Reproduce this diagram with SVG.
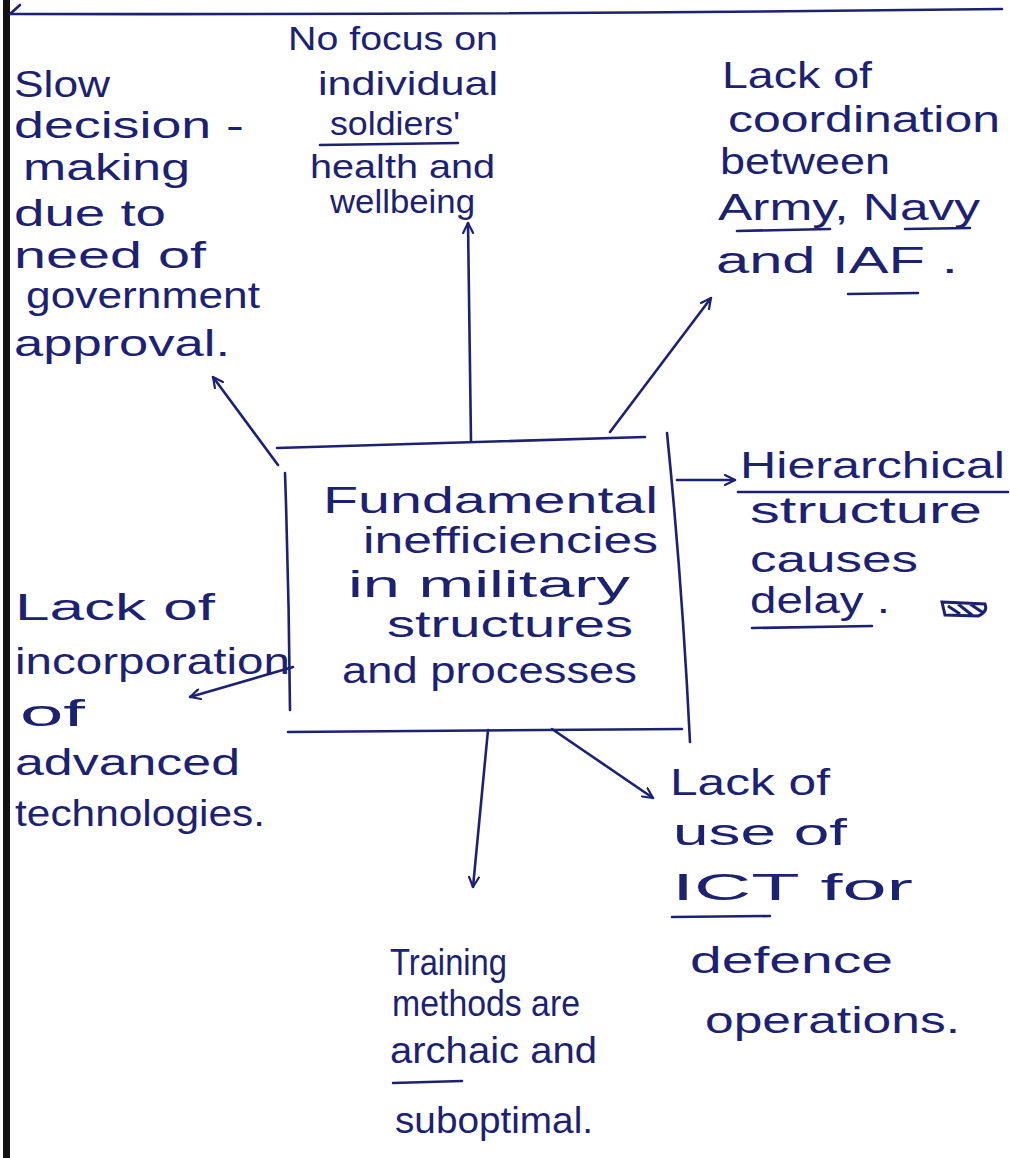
<svg xmlns="http://www.w3.org/2000/svg" width="1010" height="1158" viewBox="0 0 1010 1158">
<style>
text{font-family:"Liberation Sans","DejaVu Sans",sans-serif;font-size:37px;fill:#1d2270;}
.sm{font-size:34px;}
.ln{stroke:#1d2270;stroke-width:2.6;fill:none;stroke-linecap:round;}
.ul{stroke:#1d2270;stroke-width:2.6;fill:none;stroke-linecap:round;}
</style>
<defs>
<marker id="ah" viewBox="0 0 12 12" refX="11" refY="6" markerWidth="12" markerHeight="12" markerUnits="userSpaceOnUse" orient="auto">
<path d="M1,1 L11,6 L1,11" fill="none" stroke="#1d2270" stroke-width="2.2" stroke-linecap="round" stroke-linejoin="round"/>
</marker>
</defs>
<rect width="1010" height="1158" fill="#ffffff"/>
<rect x="3" y="0" width="7" height="1158" fill="#111111"/>
<path class="ln" d="M10,14 Q500,15 1002,9"/>
<path class="ln" d="M10,14 L20,5"/>

<g id="center">
<path class="ln" d="M277,448 L645,437"/>
<path class="ln" d="M285,473 Q289,590 290,710"/>
<path class="ln" d="M667,433 Q682,580 690,742"/>
<path class="ln" d="M288,732 L682,729"/>
<text x="323" y="513" textLength="335" lengthAdjust="spacingAndGlyphs">Fundamental</text>
<text x="363" y="553" textLength="295" lengthAdjust="spacingAndGlyphs">inefficiencies</text>
<text x="348" y="597" textLength="282" lengthAdjust="spacingAndGlyphs">in military</text>
<text x="387" y="637" textLength="246" lengthAdjust="spacingAndGlyphs">structures</text>
<text x="342" y="683" textLength="295" lengthAdjust="spacingAndGlyphs">and processes</text>
</g>

<g id="slow-decision">
<text x="14" y="97" textLength="96" lengthAdjust="spacingAndGlyphs">Slow</text>
<text x="14" y="138" textLength="230" lengthAdjust="spacingAndGlyphs">decision -</text>
<text x="23" y="180" textLength="167" lengthAdjust="spacingAndGlyphs">making</text>
<text x="14" y="226" textLength="152" lengthAdjust="spacingAndGlyphs">due to</text>
<text x="14" y="268" textLength="192" lengthAdjust="spacingAndGlyphs">need of</text>
<text x="26" y="308" textLength="234" lengthAdjust="spacingAndGlyphs">government</text>
<text x="14" y="356" textLength="216" lengthAdjust="spacingAndGlyphs">approval.</text>
</g>

<g id="no-focus">
<text class="sm" x="288" y="50" textLength="210" lengthAdjust="spacingAndGlyphs">No focus on</text>
<text class="sm" x="318" y="95" textLength="180" lengthAdjust="spacingAndGlyphs">individual</text>
<text class="sm" x="330" y="135" textLength="130" lengthAdjust="spacingAndGlyphs">soldiers'</text>
<path class="ul" d="M320,145 L458,143"/>
<text class="sm" x="310" y="178" textLength="185" lengthAdjust="spacingAndGlyphs">health and</text>
<text class="sm" x="330" y="213" textLength="145" lengthAdjust="spacingAndGlyphs">wellbeing</text>
</g>

<g id="coordination">
<text x="722" y="88" textLength="150" lengthAdjust="spacingAndGlyphs">Lack of</text>
<text x="728" y="132" textLength="272" lengthAdjust="spacingAndGlyphs">coordination</text>
<text x="720" y="174" textLength="170" lengthAdjust="spacingAndGlyphs">between</text>
<text x="718" y="220" textLength="262" lengthAdjust="spacingAndGlyphs">Army, Navy</text>
<path class="ul" d="M737,231 L830,229"/>
<path class="ul" d="M905,229 L970,228"/>
<text x="716" y="273" textLength="242" lengthAdjust="spacingAndGlyphs">and IAF .</text>
<path class="ul" d="M848,294 L918,293"/>
</g>

<g id="hierarchical">
<text x="740" y="478" textLength="265" lengthAdjust="spacingAndGlyphs">Hierarchical</text>
<path class="ul" d="M738,492 L1008,492"/>
<text x="750" y="523" textLength="232" lengthAdjust="spacingAndGlyphs">structure</text>
<text x="750" y="572" textLength="168" lengthAdjust="spacingAndGlyphs">causes</text>
<text x="750" y="613" textLength="140" lengthAdjust="spacingAndGlyphs">delay .</text>
<path class="ul" d="M752,628 L872,626"/>
<path d="M942,602 L985,604 Q988,612 978,616 L945,615 Z M948,606 L960,614 M958,604 L972,615 M970,604 L982,612" fill="none" stroke="#1d2270" stroke-width="3"/>
</g>

<g id="incorporation">
<text x="15" y="620" textLength="200" lengthAdjust="spacingAndGlyphs">Lack of</text>
<text x="15" y="674" textLength="275" lengthAdjust="spacingAndGlyphs">incorporation</text>
<text x="20" y="726" textLength="65" lengthAdjust="spacingAndGlyphs">of</text>
<text x="15" y="775" textLength="225" lengthAdjust="spacingAndGlyphs">advanced</text>
<text x="15" y="826" textLength="250" lengthAdjust="spacingAndGlyphs">technologies.</text>
</g>

<g id="training">
<text x="390" y="975" textLength="117" lengthAdjust="spacingAndGlyphs">Training</text>
<text x="392" y="1016" textLength="188" lengthAdjust="spacingAndGlyphs">methods are</text>
<text x="390" y="1063" textLength="207" lengthAdjust="spacingAndGlyphs">archaic and</text>
<path class="ul" d="M393,1083 L462,1081"/>
<text x="395" y="1133" textLength="198" lengthAdjust="spacingAndGlyphs">suboptimal.</text>
</g>

<g id="ict">
<text x="670" y="795" textLength="160" lengthAdjust="spacingAndGlyphs">Lack of</text>
<text x="673" y="845" textLength="174" lengthAdjust="spacingAndGlyphs">use of</text>
<text x="672" y="900" textLength="241" lengthAdjust="spacingAndGlyphs">ICT for</text>
<path class="ul" d="M672,917 L770,916"/>
<text x="690" y="973" textLength="203" lengthAdjust="spacingAndGlyphs">defence</text>
<text x="705" y="1033" textLength="255" lengthAdjust="spacingAndGlyphs">operations.</text>
</g>

<g id="connectors">
<path class="ln" d="M278,465 L213,377" marker-end="url(#ah)"/>
<path class="ln" d="M471,441 L468,223" marker-end="url(#ah)"/>
<path class="ln" d="M610,432 L711,298" marker-end="url(#ah)"/>
<path class="ln" d="M677,480 L735,480" marker-end="url(#ah)"/>
<path class="ln" d="M552,729 L653,798" marker-end="url(#ah)"/>
<path class="ln" d="M488,730 L473,887" marker-end="url(#ah)"/>
<path class="ln" d="M293,667 L190,697" marker-end="url(#ah)"/>
</g>
</svg>
